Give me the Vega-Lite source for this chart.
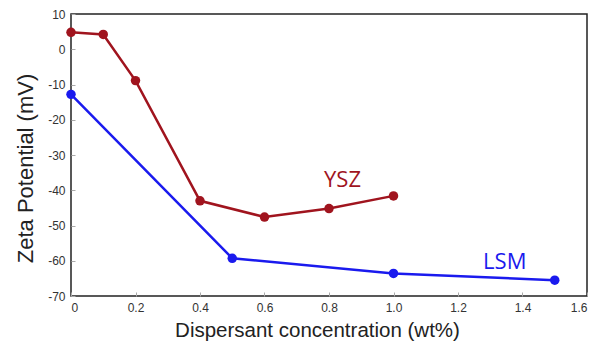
{
  "$schema": "https://vega.github.io/schema/vega-lite/v6.json",
  "autosize": "none",
  "width": 516,
  "height": 282,
  "padding": {"left": 71, "top": 14, "right": 5, "bottom": 48},
  "background": "white",
  "config": {
    "view": {"stroke": "#222", "strokeWidth": 1.5},
    "font": "Liberation Sans",
    "axis": {
      "labelFont": "Liberation Sans",
      "titleFont": "Liberation Sans",
      "labelFontSize": 12,
      "labelColor": "#333",
      "titleFontWeight": "normal",
      "titleColor": "#222",
      "grid": false,
      "domain": false,
      "tickColor": "#aaa",
      "tickSize": -4
    }
  },
  "data": {
    "values": [
      {"c": 0, "z": 4.8, "s": "YSZ"},
      {"c": 0.1, "z": 4.2, "s": "YSZ"},
      {"c": 0.2, "z": -8.9, "s": "YSZ"},
      {"c": 0.4, "z": -43.0, "s": "YSZ"},
      {"c": 0.6, "z": -47.6, "s": "YSZ"},
      {"c": 0.8, "z": -45.2, "s": "YSZ"},
      {"c": 1.0, "z": -41.6, "s": "YSZ"},
      {"c": 0, "z": -12.8, "s": "LSM"},
      {"c": 0.5, "z": -59.3, "s": "LSM"},
      {"c": 1.0, "z": -63.6, "s": "LSM"},
      {"c": 1.5, "z": -65.5, "s": "LSM"}
    ]
  },
  "encoding": {
    "x": {
      "field": "c", "type": "quantitative",
      "scale": {"domain": [0, 1.6], "nice": false, "zero": false},
      "axis": {
        "title": "Dispersant concentration (wt%)",
        "values": [0, 0.2, 0.4, 0.6, 0.8, 1.0, 1.2, 1.4, 1.6],
        "labelExpr": "datum.value == 0 ? '0' : format(datum.value, '.1f')",
        "labelPadding": 10,
        "titleFontSize": 20.5,
        "titleX": 246, "titleY": 34, "titleBaseline": "middle"
      }
    },
    "y": {
      "field": "z", "type": "quantitative",
      "scale": {"domain": [-70, 10], "nice": false, "zero": false},
      "axis": {
        "title": "Zeta Potential (mV)",
        "values": [10, 0, -10, -20, -30, -40, -50, -60, -70],
        "labelExpr": "toString(datum.value)",
        "labelPadding": 10,
        "titleFontSize": 22,
        "titleX": -46, "titleY": 154, "titleBaseline": "middle"
      }
    },
    "color": {
      "field": "s", "type": "nominal",
      "scale": {"domain": ["YSZ", "LSM"], "range": ["#a0141e", "#1a1aee"]},
      "legend": null
    }
  },
  "layer": [
    {"mark": {"type": "line", "strokeWidth": 2.5}},
    {"mark": {"type": "circle", "size": 90, "opacity": 1}},
    {
      "transform": [{"filter": "datum.s == 'YSZ' && datum.c == 1.0"}],
      "mark": {"type": "text", "text": "YSZ", "fontSize": 22, "font": "Open Sans", "dx": -51, "dy": -16, "color": "#8b1c22"}
    },
    {
      "transform": [{"filter": "datum.s == 'LSM' && datum.c == 1.5"}],
      "mark": {"type": "text", "text": "LSM", "fontSize": 22, "font": "Open Sans", "dx": -50, "dy": -18, "color": "#2525c0"}
    }
  ]
}
